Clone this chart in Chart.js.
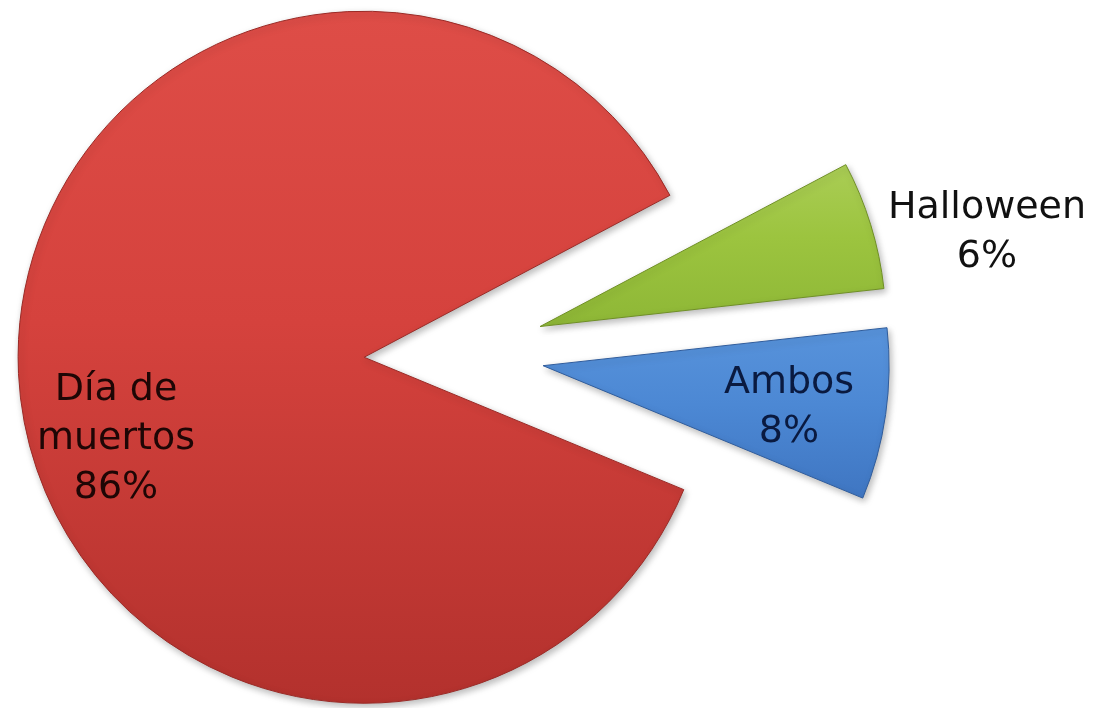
<!DOCTYPE html>
<html>
<head>
<meta charset="utf-8">
<script src="https://cdn.jsdelivr.net/npm/chart.js@4/dist/chart.umd.min.js"></script>
<style>
  html, body { margin: 0; padding: 0; background: #ffffff; }
  #wrap { width: 1099px; height: 708px; position: relative; }
</style>
</head>
<body>
<div id="wrap"><canvas id="c" width="1099" height="708"></canvas></div>
<script>
// ---- data ----
const categories = ['Día de muertos', 'Halloween', 'Ambos'];
const labelLines = [['Día de', 'muertos'], ['Halloween'], ['Ambos']];
const percentages = [86, 6, 8];

// ---- styles ----
const palette = [
  { top: '#de4d47', mid: '#d5423d', bottom: '#b3312d', border: '#9a2a26', text: '#1e0605' },
  { top: '#aacd55', mid: '#9cc43f', bottom: '#8eb736', border: '#6f8f25', text: '#111111' },
  { top: '#5893db', mid: '#4c88d4', bottom: '#3f76c2', border: '#2f5c9c', text: '#0a1a40' }
];
const explodeDist = [90, 90, 90];
const labelPlacement = [
  { x: 116, y: 400 },
  { x: 987, y: 218 },
  { x: 789, y: 393 }
];
const lineGap = 49;
const FONT = '38px "DejaVu Sans", Verdana, sans-serif';

function sliceYRange(el) {
  const ys = [el.y];
  const R = el.outerRadius;
  const a0 = el.startAngle, a1 = el.endAngle;
  const n = 60;
  for (let k = 0; k <= n; k++) {
    const a = a0 + (a1 - a0) * k / n;
    ys.push(el.y + Math.sin(a) * R);
  }
  return [Math.min(...ys), Math.max(...ys)];
}

// explode slices along their bisector and give each a shaded fill
const explodePlugin = {
  id: 'explode',
  afterDatasetUpdate(chart, args) {
    const meta = args.meta;
    const c = chart.ctx;
    meta.data.forEach((el, i) => {
      const mid = (el.startAngle + el.endAngle) / 2;
      el.x += Math.cos(mid) * explodeDist[i];
      el.y += Math.sin(mid) * explodeDist[i];
      const [y0, y1] = sliceYRange(el);
      const g = c.createLinearGradient(0, y0, 0, y1);
      g.addColorStop(0, palette[i].top);
      g.addColorStop(0.45, palette[i].mid);
      g.addColorStop(1, palette[i].bottom);
      el.options.backgroundColor = g;
    });
  }
};

const shadowPlugin = {
  id: 'shadow',
  beforeDatasetsDraw(chart) {
    const c = chart.ctx;
    c.save();
    c.shadowColor = 'rgba(0,0,0,0.28)';
    c.shadowBlur = 7;
    c.shadowOffsetX = 2;
    c.shadowOffsetY = 3;
  },
  afterDatasetsDraw(chart) {
    chart.ctx.restore();
  }
};

const labelPlugin = {
  id: 'sliceLabels',
  afterDraw(chart) {
    const c = chart.ctx;
    c.save();
    c.font = FONT;
    c.textAlign = 'center';
    c.textBaseline = 'alphabetic';
    categories.forEach((cat, i) => {
      const lines = labelLines[i].concat([percentages[i] + '%']);
      const p = labelPlacement[i];
      c.fillStyle = palette[i].text;
      lines.forEach((ln, k) => c.fillText(ln, p.x, p.y + k * lineGap));
    });
    c.restore();
  }
};

new Chart(document.getElementById('c'), {
  type: 'pie',
  data: {
    labels: categories,
    datasets: [{
      data: percentages,
      backgroundColor: palette.map(p => p.mid),
      borderColor: palette.map(p => p.border),
      borderWidth: 1,
      offset: 0,
      hoverOffset: 0
    }]
  },
  options: {
    responsive: false,
    animation: false,
    rotation: 112.5,
    radius: 346,
    layout: { padding: { left: 0, right: 191, top: 0, bottom: 2 } },
    plugins: {
      legend: { display: false },
      tooltip: { enabled: false }
    }
  },
  plugins: [explodePlugin, shadowPlugin, labelPlugin]
});
</script>
</body>
</html>
